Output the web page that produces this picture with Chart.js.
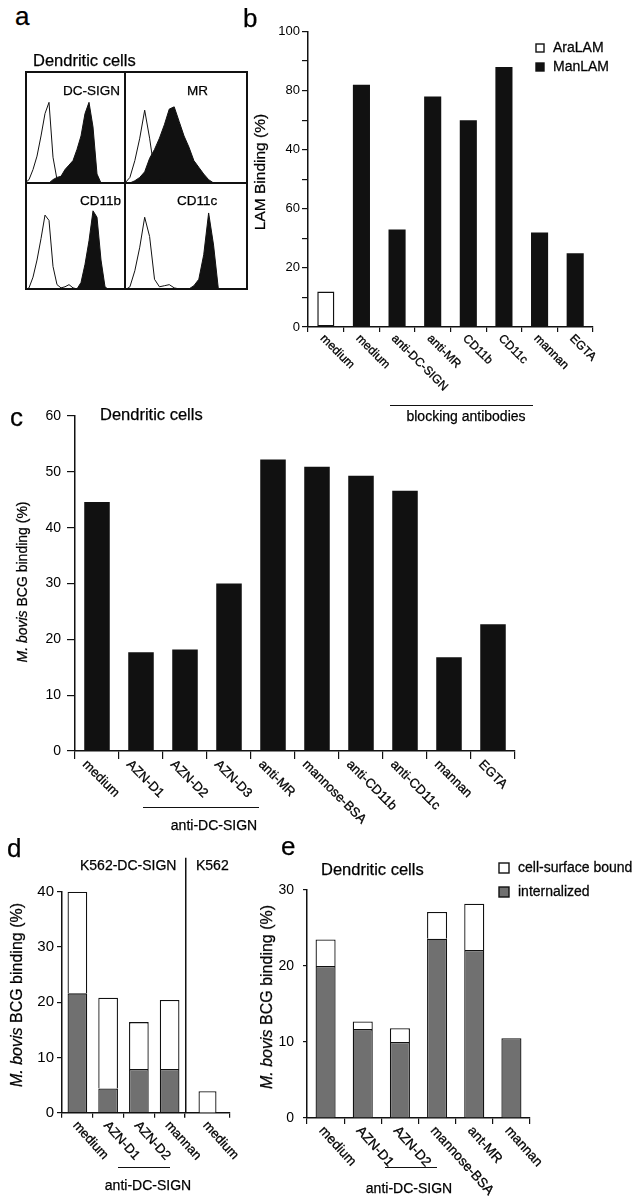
<!DOCTYPE html>
<html>
<head>
<meta charset="utf-8">
<script src="https://cdn.jsdelivr.net/npm/chart.js@4.4.0/dist/chart.umd.min.js"></script>
<style>
body { margin: 0; background: #fff; width: 638px; height: 1200px; position: relative; overflow: hidden;
       font-family: "Liberation Sans", Arial, Helvetica, sans-serif; color: #000; }
.txt { position: absolute; white-space: nowrap; line-height: 1; -webkit-text-stroke: 0.25px #000; }
.vt { position: absolute; white-space: nowrap; line-height: 1; transform: translate(-50%, -50%) rotate(-90deg); -webkit-text-stroke: 0.25px #000; }
.rule { position: absolute; height: 0; border-top: 1.5px solid #111; }
.frame { position: absolute; box-sizing: border-box; border: 2px solid #111; }
.ln { position: absolute; background: #111; }
</style>
</head>
<body>
<script>
const INK = "#111";
const GREY = "#707070";
const FONT = '"Liberation Sans", Arial, Helvetica, sans-serif';

// panel a: histograms, relative channel 0-100, height in % of the sub-panel
const channels = [0,4,8,12,16,20,24,28,32,36,40,44,48,52,56,60,64,68,72,76,80,84,88,92,96,100];
const dcsignIso = [0,3,12,24,42,62,72,23,3,2,1,1,0,0,0,0,0,0,0,0,0,0,0,0,0,0];
const dcsignPos = [0,0,0,0,0,0,0,3,5,6,12,16,20,30,42,62,72,50,8,0,0,0,0,0,0,0];
const mrIso     = [0,5,20,40,65,40,10,3,0,0,0,0,0,0,0,0,0,0,0,0,0,0,0,0,0,0];
const mrPos     = [0,0,2,5,10,22,30,40,52,66,68,55,42,32,20,14,8,3,0,0,0,0,0,0,0,0];
const cd11bIso  = [0,2,12,28,48,70,65,22,5,2,3,5,2,1,0,0,0,0,0,0,0,0,0,0,0,0];
const cd11bPos  = [0,0,0,0,0,0,0,0,0,0,0,0,0,1,7,24,46,74,68,28,3,0,0,0,0,0];
const cd11cIso  = [0,3,18,40,68,50,10,3,4,5,2,1,0,0,0,0,0,0,0,0,0,0,0,0,0,0];
const cd11cPos  = [0,0,0,0,0,0,0,0,0,0,0,0,0,1,4,10,33,72,42,0,0,0,0,0,0,0];

// panel b
const bLabels = ["medium", "medium", "anti-DC-SIGN", "anti-MR", "CD11b", "CD11c", "mannan", "EGTA"];
const bAraLAM = [12, null, null, null, null, null, null, null];
const bManLAM = [null, 82, 33, 78, 70, 88, 32, 25];
const bTickText = ["0", "", "20", "", "60", "", "40", "", "80", "", "100"];

// panel c
const cLabels = ["medium", "AZN-D1", "AZN-D2", "AZN-D3", "anti-MR", "mannose-BSA", "anti-CD11b", "anti-CD11c", "mannan", "EGTA"];
const cBinding = [44.6, 17.7, 18.2, 30, 52.2, 50.9, 49.3, 46.6, 16.8, 22.7];

// panel d
const dLabels = ["medium", "AZN-D1", "AZN-D2", "mannan"];
const dInternal = [21.6, 4.4, 7.9, 7.9];
const dSurface = [18.4, 16.4, 8.5, 12.5];
const k562Labels = ["medium"];
const k562Internal = [0];
const k562Surface = [3.9];

// panel e
const eLabels = ["medium", "AZN-D1", "AZN-D2", "mannose-BSA", "ant-MR", "mannan"];
const eInternal = [20.0, 11.7, 10.0, 23.6, 22.1, 10.5];
const eSurface = [3.5, 1.0, 1.8, 3.5, 6.1, 0];

// --- small DOM helpers
function add(el) { document.body.appendChild(el); return el; }

function text(str, x, base, size, center) {
    const el = document.createElement("div");
    el.className = "txt";
    el.innerHTML = str;
    el.style.fontSize = size + "px";
    el.style.left = x + "px";
    el.style.top = (base - 0.8465 * size) + "px";
    if (center) el.style.transform = "translateX(-50%)";
    return add(el);
}

function vtext(str, cx, cy, size) {
    const el = document.createElement("div");
    el.className = "vt";
    el.innerHTML = str;
    el.style.cssText += `left:${cx}px;top:${cy}px;font-size:${size}px`;
    return add(el);
}

function rule(x1, x2, y) {
    const el = document.createElement("div");
    el.className = "rule";
    el.style.cssText += `left:${x1}px;top:${y - 0.75}px;width:${x2 - x1}px`;
    return add(el);
}

function canvasAt(left, top, w, h) {
    const c = document.createElement("canvas");
    c.width = w;
    c.height = h;
    c.style.cssText = `position:absolute;left:${left}px;top:${top}px;width:${w}px;height:${h}px`;
    return add(c);
}

// --- chart plugins
function rotLabels(r) {
    return {
        id: "rotLabels",
        afterDraw(chart) {
            const ctx = chart.ctx, xs = chart.scales.x, base = chart.chartArea.bottom;
            ctx.save();
            ctx.fillStyle = "#000";
            ctx.strokeStyle = "#000";
            ctx.lineWidth = 0.3;
            ctx.font = `${r.size}px ${FONT}`;
            ctx.textAlign = "left";
            ctx.textBaseline = "alphabetic";
            chart.data.labels.forEach((t, i) => {
                ctx.save();
                ctx.translate(xs.getPixelForValue(i) + r.dx, base + r.dy);
                ctx.rotate(r.angle * Math.PI / 180);
                ctx.fillText(t, 0, 0);
                ctx.strokeText(t, 0, 0);
                ctx.restore();
            });
            ctx.restore();
        }
    };
}

function legendBox(x, y, gap, sq, order) {
    return {
        id: "legendBox",
        afterDraw(chart) {
            const ctx = chart.ctx;
            ctx.save();
            ctx.font = `14px ${FONT}`;
            ctx.textBaseline = "middle";
            order.forEach((di, k) => {
                const ds = chart.data.datasets[di], yy = y + k * gap;
                ctx.lineWidth = 1.4;
                ctx.fillStyle = ds.backgroundColor;
                ctx.fillRect(x, yy - sq / 2, sq, sq);
                ctx.strokeStyle = INK;
                ctx.strokeRect(x, yy - sq / 2, sq, sq);
                ctx.fillStyle = "#000";
                ctx.lineWidth = 0.3;
                ctx.fillText(ds.label, x + sq + 9, yy);
                ctx.strokeText(ds.label, x + sq + 9, yy);
            });
            ctx.restore();
        }
    };
}

const divider = {
    id: "divider",
    afterDraw(chart) {
        const ctx = chart.ctx, a = chart.chartArea;
        ctx.save();
        ctx.strokeStyle = INK;
        ctx.lineWidth = 1.5;
        ctx.beginPath();
        ctx.moveTo(a.left + 0.75, a.top - 34);
        ctx.lineTo(a.left + 0.75, a.bottom);
        ctx.stroke();
        ctx.restore();
    }
};

// --- chart builders
function histogram(left, top, w, h, iso, pos) {
    return new Chart(canvasAt(left, top, w, h), {
        type: "line",
        data: {
            labels: channels,
            datasets: [
                { data: iso, borderColor: INK, borderWidth: 1, fill: false, pointRadius: 0, tension: 0 },
                { data: pos, borderColor: INK, borderWidth: 1, backgroundColor: INK, fill: "origin", pointRadius: 0, tension: 0 }
            ]
        },
        options: {
            responsive: false, animation: false,
            layout: { padding: 0 },
            plugins: { legend: { display: false }, tooltip: { enabled: false } },
            scales: { x: { display: false, offset: false }, y: { display: false, min: 0, max: 100 } }
        }
    });
}

function barChart(o) {
    const yOpts = o.y ? {
        stacked: true, min: 0, max: o.y.max,
        ticks: { stepSize: o.y.step, color: "#000", font: { family: FONT, size: o.y.size }, padding: o.y.pad,
                 autoSkip: false, callback: o.y.cb || (v => v) },
        grid: { drawOnChartArea: false, tickLength: o.y.tick, color: INK, lineWidth: 1.2 },
        border: { color: INK, width: 1.5 },
        afterFit: s => { s.width = o.y.width; }
    } : { display: false, stacked: true, min: 0, max: o.yMax };

    return new Chart(canvasAt(o.left, o.top, o.w, o.h), {
        type: "bar",
        data: {
            labels: o.labels,
            datasets: o.datasets.map(d => Object.assign({
                categoryPercentage: 1, barPercentage: o.barPct, borderColor: INK, borderWidth: 1.3
            }, d))
        },
        options: {
            responsive: false, animation: false,
            layout: { padding: o.padding },
            plugins: { legend: { display: false }, tooltip: { enabled: false } },
            scales: {
                x: {
                    stacked: true, offset: true,
                    grid: { offset: true, drawOnChartArea: false, tickLength: o.xTick, color: INK, lineWidth: 1.2 },
                    border: { color: INK, width: 1.5 },
                    ticks: { display: false },
                    afterFit: s => { s.height = o.xTick; }
                },
                y: yOpts
            }
        },
        plugins: [rotLabels(o.rot)].concat(o.plugins || [])
    });
}

// ---- panel a
histogram(25, 71, 100, 112, dcsignIso, dcsignPos);
histogram(125, 71, 123, 112, mrIso, mrPos);
histogram(25, 183, 100, 107, cd11bIso, cd11bPos);
histogram(125, 183, 123, 107, cd11cIso, cd11cPos);
const frame = add(document.createElement("div"));
frame.className = "frame";
frame.style.cssText += "left:25px;top:71px;width:223px;height:219px";
const vline = add(document.createElement("div"));
vline.className = "ln";
vline.style.cssText += "left:124.25px;top:71px;width:1.5px;height:219px";
const hline = add(document.createElement("div"));
hline.className = "ln";
hline.style.cssText += "left:25px;top:182.25px;width:223px;height:1.5px";

// ---- panel b
barChart({
    left: 240, top: 0, w: 398, h: 440,
    labels: bLabels,
    datasets: [
        { label: "AraLAM", data: bAraLAM, backgroundColor: "#fff", borderWidth: 1.5, borderSkipped: false },
        { label: "ManLAM", data: bManLAM, backgroundColor: INK, borderWidth: 0 }
    ],
    padding: { left: 0, top: 31.5, right: 45, bottom: 108 },
    xTick: 5, barPct: 0.48,
    y: { max: 100, step: 10, size: 13, pad: 2, tick: 6, width: 68, cb: v => bTickText[Math.round(v / 10)] },
    rot: { size: 12, dx: -6, dy: 12, angle: 45 },
    plugins: [legendBox(296, 48, 19, 8, [0, 1])]
});

// ---- panel c
barChart({
    left: 0, top: 380, w: 638, h: 465,
    labels: cLabels,
    datasets: [{ label: "binding", data: cBinding, backgroundColor: INK, borderWidth: 0 }],
    padding: { left: 0, top: 36, right: 123, bottom: 86 },
    xTick: 8, barPct: 0.58,
    y: { max: 60, step: 10, size: 14, pad: 6, tick: 8, width: 75 },
    rot: { size: 13, dx: -15, dy: 14, angle: 45 }
});

// ---- panel d
barChart({
    left: 0, top: 850, w: 200, h: 350,
    labels: dLabels,
    datasets: [
        { label: "internalized", data: dInternal, backgroundColor: GREY },
        { label: "cell-surface bound", data: dSurface, backgroundColor: "#fff" }
    ],
    padding: { left: 0, top: 41.7, right: 15, bottom: 82.3 },
    xTick: 5, barPct: 0.64,
    y: { max: 40, step: 10, size: 15, pad: 3, tick: 5, width: 62 },
    rot: { size: 13, dx: -5, dy: 13, angle: 48 }
});
barChart({
    left: 185, top: 850, w: 70, h: 350,
    labels: k562Labels,
    datasets: [
        { label: "internalized", data: k562Internal, backgroundColor: GREY },
        { label: "cell-surface bound", data: k562Surface, backgroundColor: "#fff" }
    ],
    padding: { left: 0, top: 41.7, right: 25, bottom: 82.3 },
    xTick: 5, barPct: 0.4, yMax: 40,
    rot: { size: 13, dx: -5, dy: 13, angle: 48 },
    plugins: [divider]
});

// ---- panel e
barChart({
    left: 240, top: 840, w: 398, h: 360,
    labels: eLabels,
    datasets: [
        { label: "internalized", data: eInternal, backgroundColor: GREY },
        { label: "cell-surface bound", data: eSurface, backgroundColor: "#fff" }
    ],
    padding: { left: 0, top: 50, right: 108, bottom: 76 },
    xTick: 6, barPct: 0.54,
    y: { max: 30, step: 10, size: 14, pad: 9, tick: 4, width: 67 },
    rot: { size: 13.5, dx: -7, dy: 13, angle: 48 },
    plugins: [legendBox(259, 28, 24, 10, [1, 0])]
});

// ---- texts
text("a", 15, 25, 26);
text("b", 243, 27, 26);
text("c", 10, 426, 26);
text("d", 7, 857, 26);
text("e", 281, 855, 26);

text("Dendritic cells", 33, 66, 16.5);
text("Dendritic cells", 100, 420, 16.5);
text("Dendritic cells", 321, 875, 16.5);

text("DC-SIGN", 63, 95, 13.5);
text("MR", 187, 95, 13.5);
text("CD11b", 80, 205, 13.5);
text("CD11c", 177, 205, 13.5);

vtext("LAM Binding (%)", 260, 172, 15.5);
vtext("<i>M. bovis</i> BCG binding (%)", 22, 582, 14);
vtext("<i>M. bovis</i> BCG binding (%)", 17, 995, 16);
vtext("<i>M. bovis</i> BCG binding (%)", 267, 997, 16);

rule(390, 533, 406);
text("blocking antibodies", 466, 421, 14, true);
rule(143, 259, 808);
text("anti-DC-SIGN", 214, 830, 14, true);
rule(118, 170, 1168);
text("anti-DC-SIGN", 148, 1190, 14, true);
rule(385, 437, 1168);
text("anti-DC-SIGN", 409, 1193, 14, true);

text("K562-DC-SIGN", 80, 870, 14);
text("K562", 196, 870, 14);
</script>
</body>
</html>
